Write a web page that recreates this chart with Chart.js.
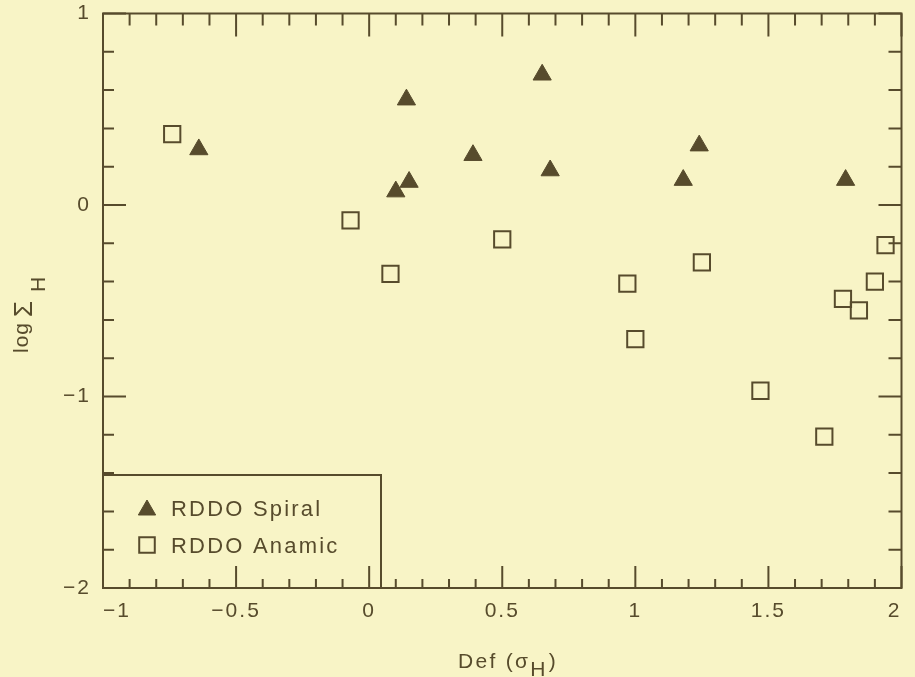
<!DOCTYPE html>
<html>
<head>
<meta charset="utf-8">
<script src="https://cdn.jsdelivr.net/npm/chart.js@4/dist/chart.umd.min.js"></script>
<style>
  html, body { margin: 0; padding: 0; background: #f8f4c6; }
  canvas { display: block; }
</style>
</head>
<body>
<canvas id="chart" width="915" height="677"></canvas>
<script>
// values
const spiralX = [-0.64, 0.10, 0.14, 0.15, 0.39, 0.65, 0.68, 1.18, 1.24, 1.79];
const spiralY = [0.29, 0.07, 0.55, 0.12, 0.26, 0.68, 0.18, 0.13, 0.31, 0.13];
const anamicX = [-0.74, -0.07, 0.08, 0.50, 0.97, 1.00, 1.25, 1.47, 1.71, 1.78, 1.84, 1.90, 1.94];
const anamicY = [0.37, -0.08, -0.36, -0.18, -0.41, -0.70, -0.30, -0.97, -1.21, -0.49, -0.55, -0.40, -0.21];
const seriesLabels = ["RDDO Spiral", "RDDO Anamic"];
const xTicks = [-1, -0.5, 0, 0.5, 1, 1.5, 2];
const yTicks = [-2, -1, 0, 1];
const xTitle = ["Def (\u03C3", "H", ")"];
const yTitle = ["log", "\u03A3", "H"];

const ink = "#574b2c";
const paper = "#f8f4c6";
const family = '"Liberation Sans", Arial, sans-serif';

const minus = v => (v < 0 ? "\u2212" + Math.abs(v) : String(v));

// background + letter spacing for every text drawn afterwards
const paperPlugin = {
  id: "paper",
  beforeDraw(chart) {
    const ctx = chart.ctx;
    ctx.save();
    ctx.fillStyle = paper;
    ctx.fillRect(0, 0, chart.width, chart.height);
    ctx.restore();
    ctx.letterSpacing = "2px";
  }
};

// box around plot with inward major/minor ticks on all sides
const framePlugin = {
  id: "frame",
  beforeDatasetsDraw(chart) {
    const { ctx, chartArea: a, scales: { x, y } } = chart;
    ctx.save();
    ctx.strokeStyle = ink;
    ctx.lineWidth = 2;
    ctx.strokeRect(a.left, a.top, a.right - a.left, a.bottom - a.top);
    ctx.beginPath();
    for (let i = Math.round(x.min * 10); i <= Math.round(x.max * 10); i++) {
      const px = x.getPixelForValue(i / 10);
      const major = i % 5 === 0;
      ctx.moveTo(px, a.top); ctx.lineTo(px, a.top + (major ? 23 : 12));
      ctx.moveTo(px, a.bottom); ctx.lineTo(px, a.bottom - (major ? 22 : 9));
    }
    for (let j = Math.round(y.min * 5); j <= Math.round(y.max * 5); j++) {
      const py = y.getPixelForValue(j / 5);
      const major = j % 5 === 0;
      ctx.moveTo(a.left, py); ctx.lineTo(a.left + (major ? 23 : 11), py);
      ctx.moveTo(a.right, py); ctx.lineTo(a.right - (major ? 23 : 13), py);
    }
    ctx.stroke();
    ctx.restore();
  }
};

// boxed legend in lower-left corner + axis titles with subscripts
const annotPlugin = {
  id: "annot",
  afterDatasetsDraw(chart) {
    const { ctx, chartArea: a } = chart;
    ctx.save();
    ctx.strokeStyle = ink;
    ctx.lineWidth = 2;
    ctx.strokeRect(a.left, 475, 381 - a.left, a.bottom - 475);

    const rows = [516, 553];
    chart.data.datasets.forEach((ds, i) => {
      ctx.fillStyle = ds.backgroundColor;
      ctx.strokeStyle = ds.borderColor;
      ctx.lineWidth = ds.borderWidth;
      Chart.helpers.drawPoint(ctx, {
        pointStyle: ds.pointStyle,
        radius: ds.pointStyle === "rect" ? 11 : 10,
        borderWidth: ds.borderWidth,
        rotation: 0
      }, 147, rows[i] - (ds.pointStyle === "rect" ? 8 : 6));
      ctx.fillStyle = ink;
      ctx.letterSpacing = "2.2px";
      ctx.font = `22px ${family}`;
      ctx.textBaseline = "alphabetic";
      ctx.fillText(ds.label, 171, rows[i]);
    });

    // x title
    ctx.fillStyle = ink;
    ctx.letterSpacing = "2.3px";
    ctx.font = `21px ${family}`;
    let u = 458;
    ctx.fillText(xTitle[0], u, 668);
    u += ctx.measureText(xTitle[0]).width;
    ctx.fillText(xTitle[1], u, 676);
    u += ctx.measureText(xTitle[1]).width + 1;
    ctx.fillText(xTitle[2], u, 668);

    // y title, rotated
    ctx.translate(0, 353);
    ctx.rotate(-Math.PI / 2);
    ctx.letterSpacing = "1px";
    ctx.font = `21px ${family}`;
    ctx.fillText(yTitle[0], 0, 28);
    ctx.font = `26px ${family}`;
    ctx.fillText(yTitle[1], 36, 32);
    ctx.font = `21px ${family}`;
    ctx.fillText(yTitle[2], 61, 45);
    ctx.restore();
  }
};

new Chart(document.getElementById("chart"), {
  type: "scatter",
  data: {
    datasets: [
      {
        label: seriesLabels[0],
        data: spiralX.map((x, i) => ({ x, y: spiralY[i] })),
        pointStyle: "triangle",
        pointRadius: 10.5,
        backgroundColor: ink,
        borderColor: ink,
        borderWidth: 1
      },
      {
        label: seriesLabels[1],
        data: anamicX.map((x, i) => ({ x, y: anamicY[i] })),
        pointStyle: "rect",
        pointRadius: 11.5,
        backgroundColor: "rgba(0,0,0,0)",
        borderColor: ink,
        borderWidth: 2
      }
    ]
  },
  options: {
    responsive: false,
    animation: false,
    events: [],
    layout: { padding: { left: 0, right: 3, top: 13, bottom: 0 } },
    plugins: {
      legend: { display: false },
      tooltip: { enabled: false }
    },
    scales: {
      x: {
        min: -1,
        max: 2,
        grid: { display: false, drawTicks: false },
        border: { display: false },
        afterBuildTicks: s => { s.ticks = xTicks.map(v => ({ value: v })); },
        afterFit: s => { s.height = 89; s.paddingLeft = 0; s.paddingRight = 0; },
        ticks: {
          align: "inner",
          maxRotation: 0,
          padding: 11,
          color: ink,
          font: { family, size: 21 },
          callback: v => minus(v)
        }
      },
      y: {
        min: -2,
        max: 1,
        grid: { display: false, drawTicks: false },
        border: { display: false },
        afterBuildTicks: s => { s.ticks = yTicks.map(v => ({ value: v })); },
        afterFit: s => { s.width = 103; s.paddingTop = 0; s.paddingBottom = 0; },
        ticks: {
          padding: 12,
          color: ink,
          font: { family, size: 21 },
          callback: v => minus(v)
        }
      }
    }
  },
  plugins: [paperPlugin, framePlugin, annotPlugin]
});
</script>
</body>
</html>
